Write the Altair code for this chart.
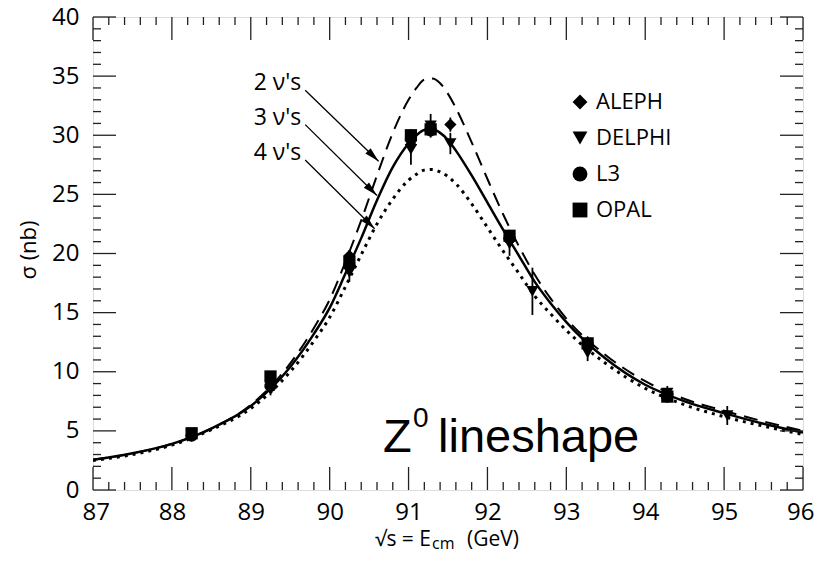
import altair as alt
import pandas as pd

# ---------------- data ----------------
E_grid = [87.0, 87.5, 88.0, 88.5, 89.0, 89.5, 89.8, 90.0, 90.2, 90.4, 90.6, 90.8,
          91.0, 91.1, 91.2, 91.3, 91.4, 91.5, 91.6, 91.8, 92.0, 92.2, 92.4, 92.6,
          92.8, 93.0, 93.5, 94.0, 94.5, 95.0, 95.5, 96.0]
sigma_2nu = [2.55, 3.1, 3.9, 5.2, 7.2, 10.7, 13.7, 16.1, 19.3, 22.8, 26.6, 30.2,
             33.0, 34.0, 34.7, 34.8, 34.4, 33.5, 32.3, 29.4, 26.3, 23.3, 20.6, 18.2,
             16.2, 14.5, 11.4, 9.2, 7.7, 6.7, 5.8, 5.0]
sigma_3nu = [2.55, 3.1, 3.9, 5.2, 7.1, 10.4, 13.2, 15.4, 18.3, 21.3, 24.5, 27.3,
             29.3, 30.0, 30.45, 30.5, 30.2, 29.6, 28.7, 26.6, 24.3, 22.0, 19.8, 17.6,
             15.8, 14.2, 11.1, 8.9, 7.5, 6.5, 5.6, 4.85]
sigma_4nu = [2.5, 3.0, 3.8, 5.1, 6.9, 10.0, 12.6, 14.6, 17.2, 19.9, 22.5, 24.6,
             26.2, 26.7, 27.05, 27.1, 26.9, 26.5, 25.9, 24.2, 22.2, 20.2, 18.3, 16.4,
             14.9, 13.5, 10.7, 8.6, 7.2, 6.2, 5.4, 4.7]

experiments = ["ALEPH", "DELPHI", "L3", "OPAL"]
ALEPH_E = [88.25, 89.25, 90.25, 91.03, 91.28, 91.53, 92.28, 93.27, 94.28]
ALEPH_S = [4.6, 8.7, 19.8, 29.2, 30.6, 30.9, 21.3, 12.5, 8.1]
ALEPH_ERR = [0.3, 0.4, 0.5, 0.6, 0.5, 0.6, 0.5, 0.4, 0.3]
DELPHI_E = [88.25, 89.25, 90.25, 91.03, 91.28, 91.53, 92.28, 92.57, 93.27, 94.28, 95.04]
DELPHI_S = [4.7, 8.5, 18.4, 28.8, 30.8, 29.3, 20.8, 16.8, 11.6, 8.2, 6.3]
DELPHI_ERR = [0.4, 0.5, 0.8, 1.3, 1.0, 0.9, 1.0, 2.0, 0.7, 0.6, 0.8]
L3_E = [88.25, 89.25, 90.25, 91.03, 91.28, 92.28, 93.27, 94.28]
L3_S = [4.6, 8.8, 19.0, 29.7, 30.4, 21.3, 12.3, 7.9]
L3_ERR = [0.3, 0.3, 0.4, 0.5, 0.4, 0.5, 0.4, 0.3]
OPAL_E = [88.25, 89.25, 90.25, 91.03, 91.28, 92.28, 93.27, 94.28]
OPAL_S = [4.8, 9.6, 19.3, 30.0, 30.5, 21.5, 12.4, 7.9]
OPAL_ERR = [0.3, 0.4, 0.5, 0.5, 0.4, 0.5, 0.4, 0.3]

arrow_labels = ["2 ν's", "3 ν's", "4 ν's"]
arrow_x0 = [89.69, 89.69, 89.69]
arrow_y0 = [33.8, 30.9, 27.9]
arrow_x1 = [90.62, 90.60, 90.57]
arrow_y1 = [27.8, 24.9, 22.1]

x_major = [87, 88, 89, 90, 91, 92, 93, 94, 95, 96]
y_major = [0, 5, 10, 15, 20, 25, 30, 35, 40]
x_minor = [round(87 + 0.2 * i, 1) for i in range(46) if i % 5 != 0]
y_minor = [i for i in range(41) if i % 5 != 0]

# ---------------- layout ----------------
W, H = 710, 473
AXFONT = "Open Sans"

xs = alt.Scale(domain=[87, 96], nice=False, zero=False)
ys = alt.Scale(domain=[0, 40], nice=False, zero=False)

curves = pd.DataFrame({"E": E_grid, "s2": sigma_2nu, "s3": sigma_3nu, "s4": sigma_4nu})

rows = []
for name, Es, Ss, Rs in [("ALEPH", ALEPH_E, ALEPH_S, ALEPH_ERR),
                         ("DELPHI", DELPHI_E, DELPHI_S, DELPHI_ERR),
                         ("L3", L3_E, L3_S, L3_ERR),
                         ("OPAL", OPAL_E, OPAL_S, OPAL_ERR)]:
    for e, s, r in zip(Es, Ss, Rs):
        rows.append({"exp": name, "E": e, "s": s, "lo": s - r, "hi": s + r})
pts = pd.DataFrame(rows)

arrows = pd.DataFrame({"lab": arrow_labels, "x0": arrow_x0, "y0": arrow_y0,
                       "x1": arrow_x1, "y1": arrow_y1})

xaxis = alt.Axis(values=x_major, format="d", ticks=False, domain=False, grid=False,
                 title=None, labelFlush=True, labelFlushOffset=11, labelFont=AXFONT,
                 labelFontSize=24, labelPadding=10, labelColor="black")
yaxis = alt.Axis(values=y_major, format="d", ticks=False, domain=False, grid=False,
                 title=None, labelFlush=False, labelFont=AXFONT, labelFontSize=24,
                 labelPadding=14, labelColor="black")

base = alt.Chart(curves)

line2 = base.mark_line(color="black", strokeWidth=2, strokeDash=[14, 8], clip=True,
                       interpolate="monotone").encode(
    x=alt.X("E:Q", scale=xs, axis=xaxis), y=alt.Y("s2:Q", scale=ys, axis=yaxis))
line3 = base.mark_line(color="black", strokeWidth=2.5, clip=True,
                       interpolate="monotone").encode(
    x=alt.X("E:Q", scale=xs), y=alt.Y("s3:Q", scale=ys))
line4 = base.mark_line(color="black", strokeWidth=3, strokeDash=[3, 5], clip=True,
                       interpolate="monotone").encode(
    x=alt.X("E:Q", scale=xs), y=alt.Y("s4:Q", scale=ys))

errs = alt.Chart(pts).mark_rule(color="black", strokeWidth=1.8).encode(
    x=alt.X("E:Q", scale=xs), y=alt.Y("lo:Q", scale=ys), y2="hi:Q")

marks = alt.Chart(pts).mark_point(filled=True, size=150, color="black", opacity=1).encode(
    x=alt.X("E:Q", scale=xs), y=alt.Y("s:Q", scale=ys),
    shape=alt.Shape("exp:N",
                    scale=alt.Scale(domain=experiments,
                                    range=["diamond", "triangle-down", "circle", "square"]),
                    legend=alt.Legend(title=None, orient="none", legendX=476, legendY=74,
                                      labelFont=AXFONT, labelFontSize=22, labelColor="black",
                                      symbolSize=220, symbolFillColor="black",
                                      symbolStrokeColor="black", symbolStrokeWidth=0,
                                      rowPadding=14, labelOffset=5, padding=0)))

arrow_lines = alt.Chart(arrows).mark_rule(color="black", strokeWidth=1.3).encode(
    x=alt.X("x0:Q", scale=xs), y=alt.Y("y0:Q", scale=ys), x2="x1:Q", y2="y1:Q")
arrow_heads = alt.Chart(arrows).mark_point(
    shape="M0,0L0.5,2L-0.5,2Z", filled=True, color="black", opacity=1,
    size=220, angle=134.6).encode(
    x=alt.X("x1:Q", scale=xs), y=alt.Y("y1:Q", scale=ys))
arrow_text = alt.Chart(arrows).mark_text(
    font=AXFONT, fontSize=23, align="right", baseline="middle", dx=-4, dy=-7,
    color="black").encode(
    x=alt.X("x0:Q", scale=xs), y=alt.Y("y0:Q", scale=ys), text="lab:N")

# inward ticks on all four sides
def tick_layer(vals, orient, length):
    df = pd.DataFrame({"v": vals})
    c = alt.Chart(df).mark_rule(color="#222", strokeWidth=1.3)
    if orient == "bottom":
        return c.encode(x=alt.X("v:Q", scale=xs), y=alt.value(H), y2=alt.value(H - length))
    if orient == "top":
        return c.encode(x=alt.X("v:Q", scale=xs), y=alt.value(0), y2=alt.value(length))
    if orient == "left":
        return c.encode(y=alt.Y("v:Q", scale=ys), x=alt.value(0), x2=alt.value(length))
    return c.encode(y=alt.Y("v:Q", scale=ys), x=alt.value(W), x2=alt.value(W - length))

ticks = [tick_layer(x_major, o, 23) for o in ("bottom", "top")] + \
        [tick_layer(x_minor, o, 8) for o in ("bottom", "top")] + \
        [tick_layer(y_major, o, 23) for o in ("left", "right")] + \
        [tick_layer(y_minor, o, 8) for o in ("left", "right")]

one = pd.DataFrame({"a": [0]})
def label(text, x, y, size, font=AXFONT, align="left", angle=0, baseline="alphabetic"):
    kw = dict(text=text, font=font, fontSize=size, align=align, baseline=baseline,
              color="black")
    if angle:
        kw["angle"] = angle
    return alt.Chart(one).mark_text(**kw).encode(x=alt.value(x), y=alt.value(y))

texts = [
    label("Z", 290, 435, 47, font="Liberation Sans"),
    label("0", 320, 410, 28, font="Liberation Sans"),
    label("lineshape", 345, 435, 47, font="Liberation Sans"),
    label("σ (nb)", -64, 233, 22, align="center", angle=270, baseline="middle"),
    label("√s = E", 338, 529, 21, align="right"),
    label("cm", 339, 532, 16),
    label("(GeV)", 374, 529, 21),
]

chart = alt.layer(line2, line3, line4, errs, marks, arrow_lines, arrow_heads,
                  arrow_text, *ticks, *texts).properties(
    width=W, height=H,
    autosize=alt.AutoSizeParams(type="none"),
    padding={"left": 85, "top": 9, "right": 12, "bottom": 64},
).configure_view(stroke="#222", strokeWidth=1.5).configure(background="white")

chart.save("out.html", embed_options={"renderer": "svg", "actions": False})
